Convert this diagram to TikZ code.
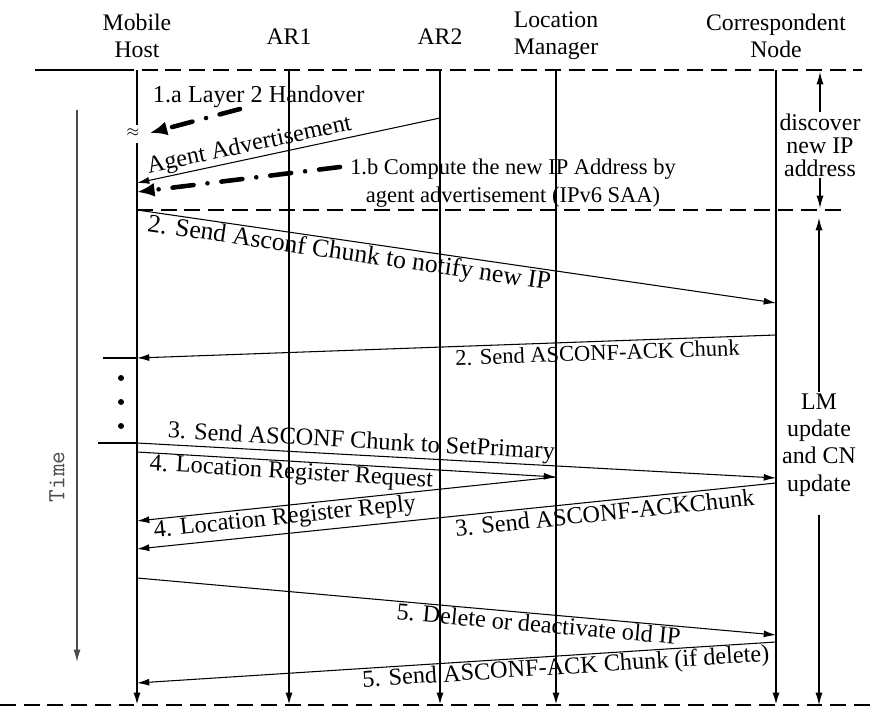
\documentclass[tikz,border=0pt]{standalone}
\usepackage{fontspec}
\setmainfont{Liberation Serif}
\usetikzlibrary{arrows.meta,calc}
\tikzset{
  life/.style  = {line width=1.1pt, -{Latex[length=7pt,width=4pt]}},
  msg/.style   = {line width=0.6pt, -{Latex[length=7pt,width=4pt]}},
  plain/.style = {line width=0.6pt},
  phase/.style = {line width=1.6pt, dash pattern=on 9pt off 4.5pt},
  ltwo/.style  = {line width=2.6pt, line cap=round,
                  dash pattern=on 12pt off 8pt on 0pt off 8pt,
                  -{Latex[length=10pt,width=8pt]}},
  hdr/.style   = {font=\fontsize{13.5}{15.3}\selectfont, align=center, inner sep=0pt},
  lbl/.style   = {font=\fontsize{13.8}{16}\selectfont, inner xsep=1.5pt, inner ysep=0.6pt},
  slbl/.style  = {font=\fontsize{12.8}{16}\selectfont, inner xsep=1.5pt, inner ysep=0.6pt},
}
\begin{document}
\begin{tikzpicture}[x=0.2mm, y=-0.2mm]
  \useasboundingbox (0,0) rectangle (875,707);
  % entities
  \node[hdr] (mh)  at (137,36) {Mobile\\Host};
  \node[hdr] (ar1) at (289,37) {AR1};
  \node[hdr] (ar2) at (440,37) {AR2};
  \node[hdr] (lm)  at (556,36) {Location\\Manager};
  \node[hdr] (cn)  at (776,36) {Correspondent\\Node};
  % phase separators
  \draw[line width=1.6pt] (35,70) -- (118,70);
  \draw[phase] (118,70) -- (862,70);
  \draw[phase] (mh |- 0,210) -- (842,210);
  \draw[phase] (0,705) -- (875,705);
  % lifelines
  \foreach \n in {ar1,ar2,lm,cn}
    \draw[life] (\n |- 0,70) -- (\n |- 0,705);
  \node[font=\small, inner sep=0pt] (gap) at (133,133) {$\approx$};
  \draw[line width=1.1pt] (mh |- 0,70) -- (mh |- 0,125);
  \draw[life] (mh |- 0,143) -- (mh |- 0,705);
  % time axis
  \coordinate (t0) at (77,110);
  \coordinate (t1) at (77,662);
  \draw[black!70, line width=0.7pt, -{Latex[length=7pt,width=4pt]}] (t0) -- (t1);
  \node[font=\ttfamily\fontsize{14}{15}\selectfont, text=black!70, rotate=90] (time) at (57,477) {Time};
  % step 1
  \coordinate (a1) at (240,109);
  \node[lbl, anchor=west] (l1a) at (150,97) {1.a Layer 2 Handover};
  \draw[ltwo] (a1) -- ([xshift=2mm]gap.east);
  \draw[msg] (ar2 |- 0,118) -- node[lbl, sloped, above, pos=0.62] {Agent Advertisement} (mh |- 0,183);
  \coordinate (b1) at (340,167);
  \node[slbl, align=center] (l1b) at (513,183) {1.b Compute the new IP Address by\\agent advertisement (IPv6 SAA)};
  \draw[ltwo] (b1) -- (mh |- 0,192);
  % step 2
  \draw[msg] (mh |- 0,210) -- node[lbl, font=\fontsize{14.6}{16}\selectfont, sloped, below, pos=0.335] {2. Send Asconf Chunk to notify new IP} (cn |- 0,303);
  \draw[msg] (cn |- 0,335) -- node[slbl, sloped, below=1pt, pos=0.28] {2. Send ASCONF-ACK Chunk} (mh |- 0,358);
  \coordinate (e1) at (103,358);
  \draw[plain] (e1) -- (mh |- e1);
  \foreach \y in {378,402,426}
    \fill (121,\y) circle[radius=0.6mm];
  % steps 3 and 4
  \coordinate (e2) at (98,443);
  \draw[plain] (e2) -- (mh |- e2);
  \draw[msg] (mh |- 0,443) -- node[lbl, sloped, above, pos=0.35] {3. Send ASCONF Chunk to SetPrimary} (cn |- 0,478);
  \draw[msg] (mh |- 0,452) -- node[lbl, sloped, below, pos=0.37] {4. Location Register Request} (lm |- 0,477);
  \draw[msg] (lm |- 0,477) -- node[lbl, sloped, below, pos=0.65] {4. Location Register Reply} (mh |- 0,521);
  \draw[msg] (cn |- 0,483) -- node[lbl, sloped, below=1pt, pos=0.27] {3. Send ASCONF-ACKChunk} (mh |- 0,549);
  % step 5
  \draw[msg] (mh |- 0,578) -- node[lbl, sloped, below, pos=0.63] {5. Delete or deactivate old IP} (cn |- 0,635);
  \draw[msg] (cn |- 0,642) -- node[lbl, sloped, below, pos=0.33] {5. Send ASCONF-ACK Chunk (if delete)} (mh |- 0,683);
  % phase notes
  \node[lbl, align=center, font=\fontsize{13.6}{13}\selectfont] (disc) at (820,145) {discover\\new IP\\address};
  \draw[msg] (disc.north) -- (disc.north |- 0,72);
  \draw[msg] (disc.south) -- (disc.south |- 0,208);
  \node[lbl, align=center, font=\fontsize{13.6}{15.5}\selectfont] (upd) at (819,445) {LM\\update\\and CN\\update};
  \draw[msg] (upd.north) -- (upd.north |- 0,218);
  \draw[msg] ([yshift=-3.5mm]upd.south) -- (upd.south |- 0,705);
\end{tikzpicture}
\end{document}
